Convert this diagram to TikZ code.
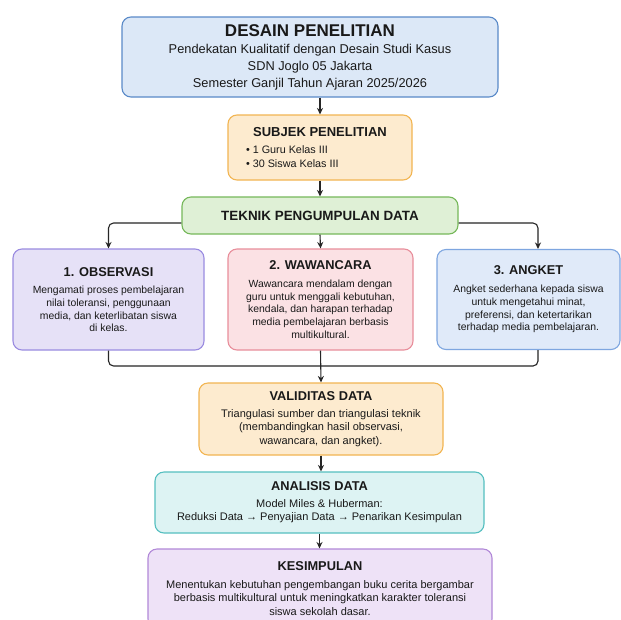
\documentclass[tikz,border=0pt]{standalone}
\usepackage{fontspec}
\setmainfont{Liberation Sans}
\usetikzlibrary{arrows.meta}

\definecolor{blueF}{HTML}{DCE8F7}
\definecolor{blueD}{HTML}{5A8AC8}
\definecolor{orangeF}{HTML}{FDEBCF}
\definecolor{orangeD}{HTML}{F2B552}
\definecolor{greenF}{HTML}{DFF0D6}
\definecolor{greenD}{HTML}{76B85A}
\definecolor{lilacF}{HTML}{E6E1F7}
\definecolor{lilacD}{HTML}{9A8BE0}
\definecolor{pinkF}{HTML}{FBE1E4}
\definecolor{pinkD}{HTML}{E88E9B}
\definecolor{skyF}{HTML}{E0EAF9}
\definecolor{skyD}{HTML}{7EA6E0}
\definecolor{tealF}{HTML}{DDF3F3}
\definecolor{tealD}{HTML}{55BFC0}
\definecolor{purpleF}{HTML}{EEE2F7}
\definecolor{purpleD}{HTML}{B188D8}

\newcommand\titlefont{\fontsize{17}{20}\selectfont\bfseries}
\newcommand\headfont{\fontsize{12.8}{15}\selectfont\bfseries}
\newcommand\bigheadfont{\fontsize{13}{15}\selectfont\bfseries}

\tikzset{
  box/.style={draw, line width=1.1pt, rounded corners=9pt, align=center, inner sep=3pt, text=black!90},
  arr/.style={-{Stealth[length=6.5pt,width=6pt]}, line width=1.1pt, draw=black!85},
  small/.style={font=\fontsize{10.4}{12.7}\selectfont},
  normal/.style={font=\fontsize{11}{13.6}\selectfont},
}

\begin{document}
\begin{tikzpicture}[x=1pt,y=-1pt]
  \useasboundingbox (0,0) rectangle (621,619);
  \fill[white] (0,0) rectangle (621,619);
  \draw
    (310,57) node[box, fill=blueF, draw=blueD, minimum width=376pt, minimum height=80pt,
      font=\fontsize{12.8}{16.7}\selectfont] (desain)
      {{\titlefont DESAIN PENELITIAN}\\[1pt]
       Pendekatan Kualitatif dengan Desain Studi Kasus\\
       SDN Joglo 05 Jakarta\\
       Semester Ganjil Tahun Ajaran 2025/2026}
    (320,147.5) node[box, fill=orangeF, draw=orangeD, minimum width=184pt, minimum height=65pt,
      font=\fontsize{10.8}{14.3}\selectfont] (subjek)
      {{\bigheadfont SUBJEK PENELITIAN}\\[3pt]
       \makebox[148pt][l]{\textbullet\ 1 Guru Kelas III}\\
       \makebox[148pt][l]{\textbullet\ 30 Siswa Kelas III}}
    (320,215.5) node[box, fill=greenF, draw=greenD, minimum width=276pt, minimum height=37pt,
      font=\fontsize{13.4}{16}\selectfont\bfseries] (teknik)
      {TEKNIK PENGUMPULAN DATA}
    (108.5,299.5) node[box, small, fill=lilacF, draw=lilacD, minimum width=191pt, minimum height=101pt] (obs)
      {{\headfont 1. OBSERVASI}\\[5pt]
       Mengamati proses pembelajaran\\
       nilai toleransi, penggunaan\\
       media, dan keterlibatan siswa\\
       di kelas.}
    (320.5,299.5) node[box, small, fill=pinkF, draw=pinkD, minimum width=185pt, minimum height=101pt] (waw)
      {{\headfont 2. WAWANCARA}\\[5pt]
       Wawancara mendalam dengan\\
       guru untuk menggali kebutuhan,\\
       kendala, dan harapan terhadap\\
       media pembelajaran berbasis\\
       multikultural.}
    (528.5,299.5) node[box, small, fill=skyF, draw=skyD, minimum width=183pt, minimum height=100pt] (ang)
      {{\headfont 3. ANGKET}\\[5pt]
       Angket sederhana kepada siswa\\
       untuk mengetahui minat,\\
       preferensi, dan ketertarikan\\
       terhadap media pembelajaran.}
    (321,419) node[box, normal, fill=orangeF, draw=orangeD, minimum width=244pt, minimum height=72pt] (val)
      {{\headfont VALIDITAS DATA}\\[3pt]
       Triangulasi sumber dan triangulasi teknik\\
       (membandingkan hasil observasi,\\
       wawancara, dan angket).}
    (319.5,502.5) node[box, normal, fill=tealF, draw=tealD, minimum width=329pt, minimum height=61pt] (ana)
      {{\headfont ANALISIS DATA}\\[3pt]
       Model Miles \& Huberman:\\
       Reduksi Data → Penyajian Data → Penarikan Kesimpulan}
    (320,588.5) node[box, normal, fill=purpleF, draw=purpleD, minimum width=344pt, minimum height=79pt] (kes)
      {{\headfont KESIMPULAN}\\[4pt]
       Menentukan kebutuhan pengembangan buku cerita bergambar\\
       berbasis multikultural untuk meningkatkan karakter toleransi\\
       siswa sekolah dasar.};
  \coordinate (angin) at ([xshift=9.5pt]ang.north);
  \coordinate (angout) at ([xshift=9.5pt]ang.south);
  \coordinate (merge) at (320,366);
  \begin{scope}[arr]
    \draw (desain.south -| subjek.north) -- (subjek.north);
    \draw (subjek.south) -- (teknik.north);
    \draw[rounded corners=5pt] ([yshift=-7.5pt]teknik.west) -| (obs.north);
    \draw (teknik.south) -- (waw.north);
    \draw[rounded corners=5pt] ([yshift=-7.5pt]teknik.east) -| (angin);
    \draw[-, rounded corners=5pt] (obs.south) |- (merge) -| (angout);
    \draw (waw.south) -- (val.north);
    \draw (val.south) -- (val.south |- ana.north);
    \draw (ana.south) -- (ana.south |- kes.north);
  \end{scope}
\end{tikzpicture}
\end{document}
